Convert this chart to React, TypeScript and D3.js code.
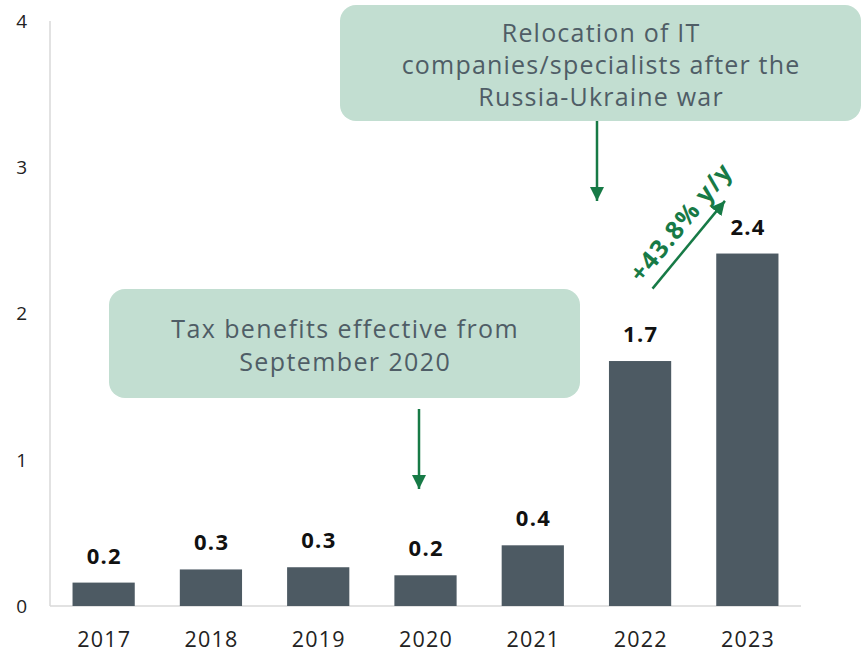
import * as d3 from "d3";
import { useEffect, useRef } from "react";

const years = ["2017", "2018", "2019", "2020", "2021", "2022", "2023"];
const values = [0.16, 0.25, 0.265, 0.21, 0.415, 1.675, 2.41];
const valueLabels = ["0.2", "0.3", "0.3", "0.2", "0.4", "1.7", "2.4"];
const yTicks = [0, 1, 2, 3, 4];

const topNote = ["Relocation of IT", "companies/specialists after the", "Russia-Ukraine war"];
const lowNote = ["Tax benefits effective from", "September 2020"];
const growthNote = "+43.8% y/y";

const width = 861;
const height = 653;
const margin = { top: 21, bottom: 47, left: 50, right: 60 };

const font = "'Open Sans', 'Noto Sans', sans-serif";
const green = "#177a46";
const boxFill = "#c2ded1";
const boxText = "#4f5d66";

const App = () => {
	const ref = useRef<SVGSVGElement>(null);

	useEffect(() => {
		const svg = d3.select(ref.current);
		svg.selectAll("*").remove();

		const x = d3
			.scaleBand()
			.domain(years)
			.range([margin.left, width - margin.right])
			.paddingInner(0.42)
			.paddingOuter(0.21);

		const y = d3
			.scaleLinear()
			.domain([0, 4])
			.range([height - margin.bottom, margin.top]);

		const defs = svg.append("defs");
		defs
			.append("marker")
			.attr("id", "head")
			.attr("viewBox", "0 0 10 10")
			.attr("refX", 10)
			.attr("refY", 5)
			.attr("markerWidth", 14)
			.attr("markerHeight", 14)
			.attr("markerUnits", "userSpaceOnUse")
			.attr("orient", "auto")
			.append("path")
			.attr("d", "M0,0 L10,5 L0,10 Z")
			.attr("fill", green);

		// axis lines
		svg
			.append("line")
			.attr("x1", margin.left)
			.attr("x2", margin.left)
			.attr("y1", y(4))
			.attr("y2", y(0))
			.attr("stroke", "#d9d9d9")
			.attr("stroke-width", 1.5);

		svg
			.append("line")
			.attr("x1", margin.left)
			.attr("x2", width - margin.right)
			.attr("y1", y(0))
			.attr("y2", y(0))
			.attr("stroke", "#d9d9d9")
			.attr("stroke-width", 1.5);

		svg
			.append("g")
			.selectAll("text")
			.data(yTicks)
			.enter()
			.append("text")
			.attr("x", 27)
			.attr("y", d => y(d))
			.attr("dy", "0.36em")
			.attr("text-anchor", "end")
			.attr("font-family", font)
			.attr("font-size", 19)
			.attr("fill", "#222")
			.text(d => d);

		svg
			.append("g")
			.selectAll("text")
			.data(years)
			.enter()
			.append("text")
			.attr("x", d => x(d)! + x.bandwidth() / 2 + 0.6)
			.attr("y", 647)
			.attr("text-anchor", "middle")
			.attr("font-family", font)
			.attr("font-size", 21.5)
			.attr("letter-spacing", 1.2)
			.attr("fill", "#222")
			.text(d => d);

		// bars
		svg
			.append("g")
			.selectAll("rect")
			.data(values)
			.enter()
			.append("rect")
			.attr("x", (d, i) => x(years[i])!)
			.attr("y", d => y(d))
			.attr("width", x.bandwidth())
			.attr("height", d => y(0) - y(d))
			.attr("fill", "#4d5a63");

		svg
			.append("g")
			.selectAll("text")
			.data(values)
			.enter()
			.append("text")
			.attr("x", (d, i) => x(years[i])! + x.bandwidth() / 2 + 0.7)
			.attr("y", d => y(d) - 19)
			.attr("text-anchor", "middle")
			.attr("font-family", font)
			.attr("font-weight", "bold")
			.attr("font-size", 22)
			.attr("letter-spacing", 1.3)
			.attr("fill", "#111")
			.text((d, i) => valueLabels[i]);

		// annotation boxes
		const note = (lines: string[], bx: number, by: number, bw: number, bh: number, cy: number, gap: number, ls: number) => {
			svg
				.append("rect")
				.attr("x", bx)
				.attr("y", by)
				.attr("width", bw)
				.attr("height", bh)
				.attr("rx", 16)
				.attr("fill", boxFill);
			svg
				.append("g")
				.selectAll("text")
				.data(lines)
				.enter()
				.append("text")
				.attr("x", bx + bw / 2 + ls / 2)
				.attr("y", (d, i) => cy + i * gap)
				.attr("dy", "0.35em")
				.attr("text-anchor", "middle")
				.attr("font-family", font)
				.attr("font-size", 25)
				.attr("letter-spacing", ls)
				.attr("fill", boxText)
				.text(d => d);
		};

		note(topNote, 340, 5, 521, 116, 33, 32, 1.2);
		note(lowNote, 109, 289, 471, 109, 329, 33, 1.4);

		const arrow = (x1: number, y1: number, x2: number, y2: number) =>
			svg
				.append("line")
				.attr("x1", x1)
				.attr("y1", y1)
				.attr("x2", x2)
				.attr("y2", y2)
				.attr("stroke", green)
				.attr("stroke-width", 2.5)
				.attr("marker-end", "url(#head)");

		arrow(597, 121, 597, 201);
		arrow(419, 409, 419, 489);

		// growth arrow between 2022 and 2023
		const gx1 = x("2022")! + x.bandwidth() * 0.7;
		const gy1 = y(2.17);
		const gx2 = x("2023")! + x.bandwidth() * 0.14;
		const gy2 = y(2.77);
		arrow(gx1, gy1, gx2, gy2);

		const angle = (Math.atan2(gy2 - gy1, gx2 - gx1) * 180) / Math.PI;
		svg
			.append("text")
			.attr("transform", `translate(${(gx1 + gx2) / 2 - 1}, ${(gy1 + gy2) / 2 - 17}) rotate(${angle})`)
			.attr("text-anchor", "middle")
			.attr("font-family", font)
			.attr("font-weight", "bold")
			.attr("font-size", 25)
			.attr("letter-spacing", 1.3)
			.attr("fill", green)
			.text(growthNote);
	}, []);

	return (
		<svg
			ref={ref}
			width={width}
			height={height}
			style={{ position: "absolute", left: 0, top: 0, background: "#fff" }}
		/>
	);
};

export default App;
